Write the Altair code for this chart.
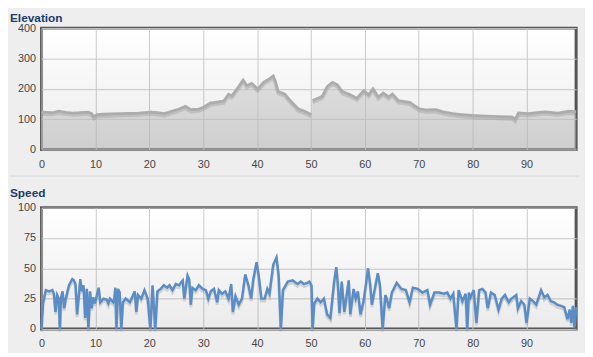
import altair as alt
import pandas as pd

# ---------------- data ----------------
elev_x1 = [0, 1, 2, 3.2, 4.5, 5.7, 7, 8.7, 9.3, 9.7, 10.3, 11.5, 13, 14.8, 16.5, 18, 20.3, 21.5,
           22.8, 24, 25.2, 26.7, 27.7, 29.2, 30.1, 31.3, 33.8, 34.7, 35.3, 36.5, 37.4, 38.1, 39.0,
           40.1, 41.2, 42.4, 43.0, 43.4, 43.9, 45.1, 46.0, 47.6, 48.8, 50.0]
elev_y1 = [123, 122, 121, 126, 122, 120, 121, 123, 118, 108, 115, 116, 117, 118, 119, 120, 123, 121,
           118, 125, 131, 142, 131, 133, 139, 153, 159, 182, 177, 205, 229, 210, 218,
           199, 221, 234, 242, 224, 191, 183, 164, 134, 126, 115]
elev_x2 = [50.3, 51.2, 52.1, 53.0, 54.0, 54.9, 55.8, 57.3, 58.5, 59.8, 60.7, 61.5, 62.5, 63.4, 64.4,
           65.1, 66.2, 67.3, 68.3, 70.1, 71.5, 73.2, 74.5, 76.3, 78.0, 79.9, 82.4, 85.0, 87.3, 87.9,
           88.5, 90.3, 92.0, 93.4, 95.8, 97.9, 99.2]
elev_y2 = [161, 168, 175, 207, 221, 213, 191, 180, 169, 194, 180, 200, 173, 186, 173,
           183, 161, 158, 155, 134, 130, 131, 124, 118, 115, 112, 110, 108, 107, 99,
           120, 118, 121, 124, 120, 126, 125]

speed_x = [0, 0.15, 0.3, 0.8, 1.4, 2.0, 2.3, 2.6, 2.9, 3.2, 3.4, 3.6, 3.9, 4.2, 4.5, 5.1, 5.7, 6.0,
           6.3, 6.6, 7.2, 7.5, 7.8, 8.1, 8.4, 8.7, 9.0, 9.3, 9.6, 9.9, 10.6, 10.9, 11.5, 12.1, 12.4,
           12.7, 13.3, 13.5, 13.7, 13.9, 14.2, 14.5, 14.8, 15.1, 15.6, 16.4, 17.3, 17.6, 17.9, 18.5,
           19.1, 19.7, 20.2, 20.6, 21.1, 21.5, 22.1, 22.7, 23.3, 23.75, 24.3, 24.9, 25.5, 26.2, 26.5,
           27.1, 27.4, 27.7, 28.0, 28.6, 29.2, 29.9, 30.5, 30.95, 31.4, 32.0, 32.6, 32.9, 33.5, 34.1,
           34.7, 35.2, 35.5, 36.0, 36.6, 37.2, 37.8, 38.4, 38.9, 39.3, 39.9, 40.3, 40.8, 41.4, 41.9,
           42.3, 43.0, 43.6, 44.0, 44.4, 44.8, 45.7, 46.6, 47.5, 48.1, 48.7, 49.3, 49.7, 50.1, 50.3,
           50.6, 51.2, 51.8, 52.4, 53.0, 53.6, 54.3, 54.7, 55.0, 55.3, 55.7, 56.2, 57.0, 57.3, 57.9,
           58.3, 58.7, 59.2, 59.8, 60.6, 61.0, 61.3, 61.8, 62.4, 62.8, 63.3, 63.8, 64.0, 64.5, 65.0,
           65.9, 66.8, 67.6, 68.3, 68.9, 69.8, 70.7, 71.6, 72.1, 72.9, 73.8, 74.7, 75.3, 75.9, 76.4,
           77.0, 77.4, 78.1, 78.7, 79.0, 79.3, 79.6, 80.2, 80.7, 81.2, 81.8, 82.4, 82.8, 83.4, 84.1,
           84.8, 85.4, 86.0, 86.7, 87.2, 88.1, 88.4, 89.0, 89.6, 90.0, 90.6, 91.2, 91.8, 92.7, 93.3,
           93.9, 94.5, 95.1, 95.7, 96.4, 97.0, 97.6, 98.0, 98.3, 98.6, 98.9, 99.2]
speed_y = [0, 12, 22, 32, 31, 32, 29, 14, 28, 25, 0, 25, 31, 17, 25, 36, 41, 40,
           37, 12, 41, 31, 36, 9, 33, 0, 31, 17, 26, 21, 34, 22, 25, 24, 21,
           25, 22, 25, 34, 0, 33, 30, 0, 22, 25, 22, 31, 14, 28, 25,
           32, 25, 0, 36, 0, 31, 33, 36, 34, 36, 32, 37, 36, 40, 25,
           44, 41, 20, 34, 32, 36, 33, 32, 25, 31, 33, 22, 32, 29, 31,
           25, 37, 14, 27, 20, 25, 45, 36, 25, 41, 55, 44, 25, 25, 33,
           29, 53, 59, 44, 0, 32, 39, 40, 37, 39, 37, 38, 39, 36, 0,
           21, 25, 22, 25, 12, 9, 39, 51, 36, 13, 39, 14, 40, 12, 33,
           25, 31, 12, 24, 50, 36, 20, 32, 46, 36, 0, 28, 26, 17, 30,
           38, 33, 32, 22, 34, 33, 30, 32, 20, 30, 30, 29, 30, 25, 29,
           0, 32, 23, 29, 0, 30, 26, 32, 5, 32, 33, 30, 17, 30, 28,
           16, 25, 28, 22, 25, 28, 17, 23, 20, 5, 25, 23, 20, 32, 26,
           28, 23, 22, 20, 19, 18, 8, 16, 5, 19, 1, 18]

x_ticks = [0, 10, 20, 30, 40, 50, 60, 70, 80, 90]
elev_ticks = [0, 100, 200, 300, 400]
speed_ticks = [0, 25, 50, 75, 100]
titles = ["Elevation", "Speed"]

elev_df = pd.DataFrame({
    "x": elev_x1 + elev_x2,
    "elev": elev_y1 + elev_y2,
    "seg": ["a"] * len(elev_x1) + ["b"] * len(elev_x2),
})
speed_df = pd.DataFrame({"x": speed_x, "speed": speed_y})
one_row = pd.DataFrame({"k": [0]})

# ---------------- styling ----------------
W, H = 542, 123
FONT = "Liberation Sans"
TITLE_COLOR = "#1b3c6c"

xscale = alt.Scale(domain=[0, 99.2], nice=False, zero=False)
xaxis = alt.Axis(values=x_ticks, title=None, ticks=False, labelPadding=9, domain=False,
                 labelFlush=False, labelColor="#444444", labelFontSize=11, labelFont=FONT,
                 gridColor="#cccccc", gridWidth=1)


def yaxis(vals):
    return alt.Axis(values=vals, title=None, ticks=False, labelPadding=6, domain=False,
                    labelColor="#444444", labelFontSize=11, labelFont=FONT,
                    gridColor="#cccccc", gridWidth=1, minExtent=30, maxExtent=30)


def panel_title(text, dy):
    return alt.Chart(one_row).mark_text(
        align="left", baseline="alphabetic", font=FONT, fontSize=12, fontWeight="bold",
        color=TITLE_COLOR,
    ).encode(x=alt.value(-32), y=alt.value(dy), text=alt.value(text))


def plot_bg():
    return alt.Chart(one_row).mark_rect(
        fill=alt.LinearGradient(gradient="linear",
                                stops=[alt.GradientStop(color="rgba(0,0,0,0)", offset=0),
                                       alt.GradientStop(color="rgba(0,0,0,0.08)", offset=1)],
                                x1=0, x2=0, y1=0, y2=1),
    ).encode(x=alt.value(0), x2=alt.value(W), y=alt.value(0), y2=alt.value(H))


# ---------------- elevation ----------------
ebase = alt.Chart(elev_df).encode(
    x=alt.X("x:Q", scale=xscale, axis=xaxis),
    y=alt.Y("elev:Q", scale=alt.Scale(domain=[0, 400], nice=False), axis=yaxis(elev_ticks)),
    detail="seg:N",
)
e_area = ebase.mark_area(
    fill=alt.LinearGradient(gradient="linear",
                            stops=[alt.GradientStop(color="#c8c8c8", offset=0),
                                   alt.GradientStop(color="#b8b8b8", offset=1)],
                            x1=0, x2=0, y1=0, y2=1),
    opacity=0.55,
)
e_shadow = ebase.mark_line(color="#888888", opacity=0.3, strokeWidth=3.5, yOffset=2)
e_line = ebase.mark_line(color="#acacac", strokeWidth=2.8)
sep = alt.Chart(one_row).mark_rule(color="#d8d8d8", strokeWidth=1).encode(
    x=alt.value(-32), x2=alt.value(W + 3), y=alt.value(H + 27))

elev_chart = alt.layer(plot_bg(), e_area, e_shadow, e_line, sep,
                       panel_title(titles[0], -6)).properties(width=W, height=H)

# ---------------- speed ----------------
sbase = alt.Chart(speed_df).encode(
    x=alt.X("x:Q", scale=xscale, axis=xaxis),
    y=alt.Y("speed:Q", scale=alt.Scale(domain=[0, 100], nice=False), axis=yaxis(speed_ticks)),
)
s_shadow = sbase.mark_line(color="#888888", opacity=0.3, strokeWidth=3, yOffset=2.5)
s_line = sbase.mark_line(color="#5a8dc5", strokeWidth=2.5)
speed_chart = alt.layer(plot_bg(), s_shadow, s_line,
                        panel_title(titles[1], -11)).properties(width=W, height=H)

chart = alt.vconcat(elev_chart, speed_chart, spacing=7).properties(
    padding={"left": 0, "top": 0, "right": 0, "bottom": 0},
    background="#eeeeee",
).configure_view(
    stroke="#555555",
    strokeWidth=3,
    fill="#ffffff",
)

chart.save("out.html", embed_options={"renderer": "svg", "actions": False})
